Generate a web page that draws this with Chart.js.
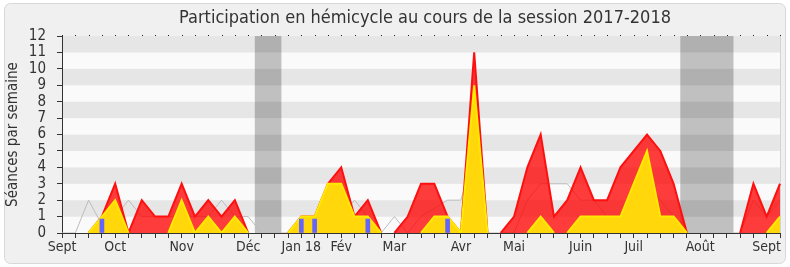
<!DOCTYPE html>
<html>
<head>
<meta charset="utf-8">
<script src="https://cdn.jsdelivr.net/npm/chart.js@4/dist/chart.umd.min.js"></script>
<style>
  body { margin: 0; background: #fff; }
  canvas { display: block; }
</style>
</head>
<body>
<canvas id="graphiqueHemicycle" width="790" height="267"></canvas>
<script>
// semaines de la session 2017-2018 (une étiquette par début de mois)
const semaines = [
  'Sept', '', '', '', 'Oct', '', '', '', '', 'Nov', '', '', '', '', 'Déc', '', '', '',
  'Jan 18', '', '', 'Fév', '', '', '', 'Mar', '', '', '', '', 'Avr', '', '', '',
  'Mai', '', '', '', '', 'Juin', '', '', '', 'Juil', '', '', '', '', 'Août', '', '', '', '',
  'Sept', ''
];

// séances par semaine
const presences = [
  0, 0, 0, 1, 3, 0, 2, 1, 1, 3,
  1, 2, 1, 2, 0, 0, 0, 0, 1, 1,
  3, 4, 1, 2, 0, 0, 1, 3, 3, 1,
  0, 11, 0, 0, 1, 4, 6, 1, 2, 4,
  2, 2, 4, 5, 6, 5, 3, 0, 0, 0,
  0, 0, 3, 1, 3
];
const interventions = [
  0, 0, 0, 1, 2, 0, 0, 0, 0, 2,
  0, 1, 0, 1, 0, 0, 0, 0, 1, 1,
  3, 3, 1, 1, 0, 0, 0, 0, 1, 1,
  0, 9, 0, 0, 0, 0, 1, 0, 0, 1,
  1, 1, 1, 3, 5, 1, 1, 0, 0, 0,
  0, 0, 0, 0, 1
];
const mediane = [
  0, 0, 2, 0.5, 1, 2, 1, 1, 1, 1,
  1, 1, 2, 1, 1, 0, 0, 0, 1, 1,
  1, 1, 2, 1, 0, 1, 0, 1, 1.5, 2,
  2, 5, 0, 0, 0, 2, 3, 3, 3, 2,
  2, 1, 1, 2, 3, 2, 1, 0, 0, 0,
  0, 0, 2, 1, 2
];
const questions = [
  null, null, null, 0.85, null, null, null, null, null, null,
  null, null, null, null, null, null, null, null, 0.85, 0.85,
  null, null, null, 0.85, null, null, null, null, null, 0.85,
  null, null, null, null, null, null, null, null, null, null,
  null, null, null, null, null, null, null, null, null, null,
  null, null, null, null, null
];

// vacances parlementaires (en semaines)
const vacances = [[14.5, 16.5], [46.5, 50.5]];

const titre = 'Participation en hémicycle au cours de la session 2017-2018';
const police = '"DejaVu Sans Condensed", "DejaVu Sans", sans-serif';
const gris = '#333';

// pas de trait le long de l'axe quand la valeur reste à zéro
const traitNul = c => (c.p0.parsed.y === 0 && c.p1.parsed.y === 0) ? 'rgba(0,0,0,0)' : undefined;

const fondPlugin = {
  id: 'fond',
  beforeDraw(chart) {
    const { ctx, chartArea: a, scales: { x, y } } = chart;
    ctx.save();
    ctx.fillStyle = '#fff';
    ctx.fillRect(0, 0, chart.width, chart.height);
    ctx.fillStyle = '#f0f0f0';
    ctx.strokeStyle = '#d8d8d8';
    ctx.beginPath();
    ctx.roundRect(4.5, 3.5, chart.width - 9, chart.height - 7, 6);
    ctx.fill();
    ctx.stroke();

    // bandes horizontales
    for (let v = 0; v < 12; v++) {
      const haut = y.getPixelForValue(v + 1);
      const bas = y.getPixelForValue(v);
      ctx.fillStyle = v % 2 ? '#e6e6e6' : '#fafafa';
      ctx.fillRect(a.left, haut, a.right - a.left, bas - haut);
    }
    // vacances
    ctx.fillStyle = 'rgba(0, 0, 0, 0.23)';
    vacances.forEach(([debut, fin]) => {
      const x1 = x.getPixelForValue(debut);
      const x2 = x.getPixelForValue(fin);
      ctx.fillRect(x1, a.top, x2 - x1, a.bottom - a.top);
    });
    // bord droit
    ctx.fillStyle = '#d4d4d4';
    ctx.fillRect(a.right, a.top, 1, a.bottom - a.top);
    ctx.restore();
  },
  afterDraw(chart) {
    const { ctx, chartArea: a, scales: { x } } = chart;
    ctx.save();
    ctx.fillStyle = gris;
    ctx.font = '18px ' + police;
    ctx.textAlign = 'center';
    ctx.textBaseline = 'middle';
    ctx.fillText(titre, (a.left + a.right) / 2 + 4, 18);
    // petits repères en haut
    ctx.fillStyle = '#222';
    x.ticks.forEach((t, i) => {
      ctx.fillRect(Math.round(x.getPixelForTick(i)), a.top - 1, 1, 1);
    });
    ctx.restore();
  }
};

const ctx = document.getElementById('graphiqueHemicycle');
new Chart(ctx, {
  type: 'line',
  data: {
    labels: semaines,
    datasets: [
      {
        type: 'bar',
        label: 'Questions orales',
        data: questions,
        backgroundColor: '#6464ff',
        barThickness: 4,
        order: 0
      },
      {
        label: 'Interventions',
        data: interventions,
        borderColor: '#ffea00',
        borderWidth: 2,
        backgroundColor: '#ffd70a',
        fill: 'origin',
        pointRadius: 0,
        tension: 0,
        segment: { borderColor: traitNul },
        order: 1
      },
      {
        label: 'Présences',
        data: presences,
        borderColor: '#ff1010',
        borderWidth: 2,
        backgroundColor: 'rgba(255, 0, 0, 0.76)',
        fill: 'origin',
        pointRadius: 0,
        tension: 0,
        segment: { borderColor: traitNul },
        order: 2
      },
      {
        label: 'Médiane',
        data: mediane,
        borderColor: '#bcbcbc',
        borderWidth: 1,
        fill: false,
        pointRadius: 0,
        tension: 0,
        order: 3
      }
    ]
  },
  options: {
    responsive: false,
    animation: false,
    devicePixelRatio: 1,
    layout: { padding: { top: 36, right: 10, left: 0, bottom: 0 } },
    plugins: {
      legend: { display: false },
      tooltip: { enabled: false }
    },
    scales: {
      x: {
        offset: false,
        grid: { drawOnChartArea: false, offset: false, tickLength: 5, tickColor: gris },
        border: { color: gris },
        ticks: { autoSkip: false, maxRotation: 0, padding: 1, color: gris, font: { family: police, size: 14 } },
        afterFit(s) { s.height = 34; }
      },
      y: {
        min: 0,
        max: 12,
        grid: { drawOnChartArea: false, tickLength: 5, tickColor: gris },
        border: { color: gris },
        ticks: { stepSize: 1, autoSkip: false, padding: 11, color: gris, font: { family: police, size: 15 } },
        title: {
          display: true,
          text: 'Séances par semaine',
          color: gris,
          font: { family: police, size: 15 },
          padding: { top: 4, bottom: 0 }
        },
        afterFit(s) { s.width = 62; }
      }
    }
  },
  plugins: [fondPlugin]
});
</script>
</body>
</html>
